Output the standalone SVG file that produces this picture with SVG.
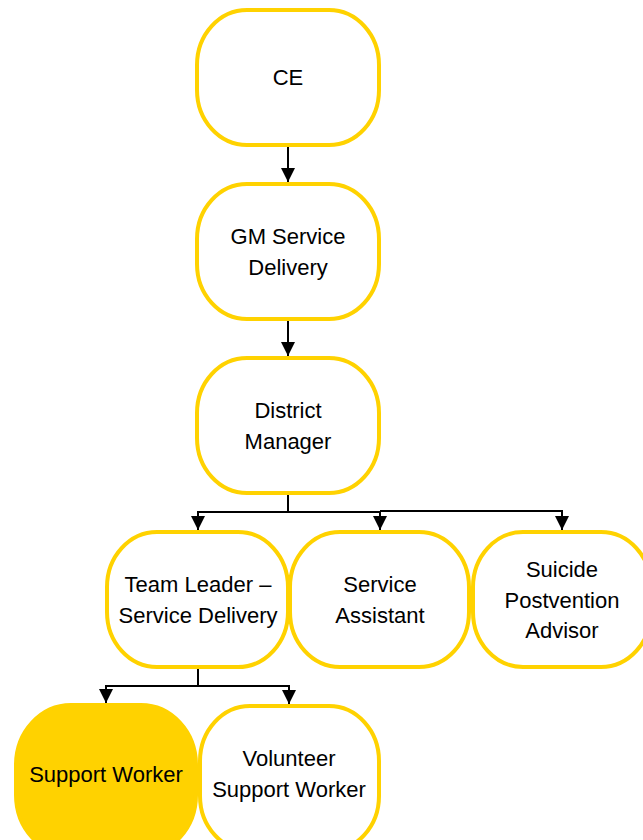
<svg xmlns="http://www.w3.org/2000/svg" width="643" height="840" viewBox="0 0 643 840">
<defs>
<style>
.n{fill:#fff;stroke:#FFD200;stroke-width:4}
.f{fill:#FFD200;stroke:#FFD200;stroke-width:4}
.t{font-family:"Liberation Sans",Arial,sans-serif;font-size:22px;fill:#000;text-anchor:middle}
.c{fill:none;stroke:#000;stroke-width:2}
</style>
<marker id="ah" viewBox="0 0 10 10" refX="10" refY="5" markerWidth="7" markerHeight="7" orient="auto" markerUnits="strokeWidth"><path d="M0,0 L10,5 L0,10 z" fill="#000"/></marker>
</defs>
<rect width="643" height="840" fill="#fff"/>
<g id="connectors">
<path class="c" d="M288,145 V182" marker-end="url(#ah)"/>
<path class="c" d="M288,319 V356" marker-end="url(#ah)"/>
<path class="c" d="M288,493 V512 H198 V530" marker-end="url(#ah)"/>
<path class="c" d="M288,512 H380 V530" marker-end="url(#ah)"/>
<path class="c" d="M380,511 H562 V530" marker-end="url(#ah)"/>
<path class="c" d="M198,667 V686 H106 V703" marker-end="url(#ah)"/>
<path class="c" d="M198,686 H289 V704" marker-end="url(#ah)"/>
</g>
<g id="ce"><rect class="n" x="197" y="10" width="182" height="135" rx="50" ry="55"/><text class="t" x="288" y="85">CE</text></g>
<g id="gm"><rect class="n" x="197" y="184" width="182" height="135" rx="50" ry="55"/><text class="t" x="288" y="244">GM Service</text><text class="t" x="288" y="275">Delivery</text></g>
<g id="dm"><rect class="n" x="197" y="358" width="182" height="135" rx="50" ry="55"/><text class="t" x="288" y="418">District</text><text class="t" x="288" y="449">Manager</text></g>
<g id="tl"><rect class="n" x="107" y="532" width="181" height="135" rx="50" ry="55"/><text class="t" x="198" y="592">Team Leader –</text><text class="t" x="198" y="623">Service Delivery</text></g>
<g id="sa"><rect class="n" x="290" y="532" width="179" height="135" rx="50" ry="55"/><text class="t" x="380" y="592">Service</text><text class="t" x="380" y="623">Assistant</text></g>
<g id="spa"><rect class="n" x="473" y="532" width="178" height="135" rx="50" ry="55"/><text class="t" x="562" y="577">Suicide</text><text class="t" x="562" y="608">Postvention</text><text class="t" x="562" y="638">Advisor</text></g>
<g id="sw"><rect class="f" x="16" y="705" width="180" height="150" rx="55" ry="60"/><text class="t" x="106" y="782">Support Worker</text></g>
<g id="vsw"><rect class="n" x="200" y="706" width="179" height="145" rx="50" ry="55"/><text class="t" x="289" y="766">Volunteer</text><text class="t" x="289" y="797">Support Worker</text></g>
</svg>
